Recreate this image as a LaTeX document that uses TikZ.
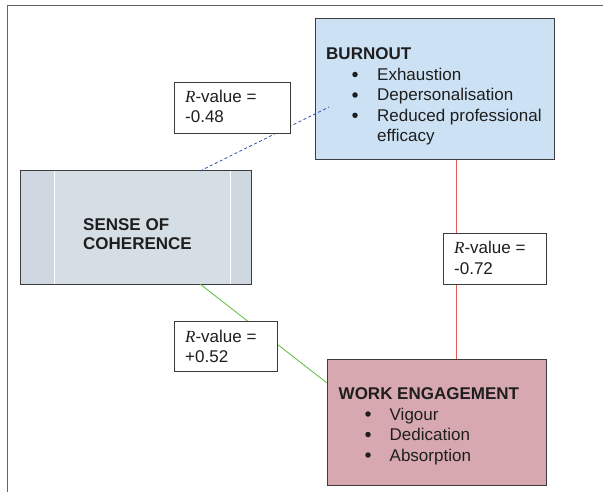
\documentclass[tikz,border=0pt]{standalone}
\usepackage{fontspec}
\setmainfont{Liberation Sans}
\newfontfamily\serifR{Liberation Serif}
\definecolor{burnfill}{RGB}{204,226,244}
\definecolor{socfill}{RGB}{214,222,229}
\definecolor{socside}{RGB}{207,216,224}
\definecolor{wefill}{RGB}{216,168,176}
\definecolor{boxline}{RGB}{60,60,60}
\definecolor{framecol}{RGB}{100,100,100}
\definecolor{dashblue}{RGB}{50,80,170}
\definecolor{redln}{RGB}{225,90,90}
\definecolor{greenln}{RGB}{90,190,60}
\definecolor{txt}{RGB}{30,30,30}
\tikzset{
  bigbox/.style={draw=boxline, line width=1pt, inner sep=0pt},
  valbox/.style={draw=boxline, line width=0.9pt, fill=white, inner sep=0pt},
  tx/.style={anchor=base west, inner sep=0pt, text=txt, font=\fontsize{17}{20.3}\selectfont},
  bx/.style={tx, font=\fontsize{17}{20.3}\selectfont\bfseries},
  bul/.style={circle, fill=txt, inner sep=0pt, minimum size=5.5pt},
  dashconn/.style={draw=dashblue, line width=0.8pt, dash pattern=on 3pt off 2.5pt},
  redconn/.style={draw=redln, line width=0.8pt},
  greenconn/.style={draw=greenln, line width=0.8pt}
}
\begin{document}
\begin{tikzpicture}[x=1pt,y=-1pt]
\useasboundingbox (0,0) rectangle (603,492);
\fill[white] (0,0) rectangle (603,492);
% frame
\coordinate (fA) at (7,492);
\coordinate (fB) at (7,6);
\coordinate (fC) at (603,6);
\draw[framecol, line width=1pt] (fA) -- (fB) -- (fC);

% boxes
\node[bigbox, fill=burnfill, minimum width=239pt, minimum height=141pt] (burn) at (434.5,89.5) {};
\node[bigbox, fill=socfill, minimum width=230pt, minimum height=113pt] (soc) at (136,227.5) {};
\fill[socside] ([xshift=0.5pt,yshift=-0.5pt]soc.north west) rectangle ([xshift=34pt,yshift=0.5pt]soc.south west);
\fill[socside] ([xshift=-21pt,yshift=-0.5pt]soc.north east) rectangle ([xshift=-0.5pt,yshift=0.5pt]soc.south east);
\draw[white, line width=1pt] ([xshift=34pt]soc.north west) -- ([xshift=34pt]soc.south west);
\draw[white, line width=1pt] ([xshift=-21pt]soc.north east) -- ([xshift=-21pt]soc.south east);
\draw[boxline, line width=1pt] (soc.north west) rectangle (soc.south east);
\node[bigbox, fill=wefill, minimum width=219pt, minimum height=126pt] (we) at (436.5,422) {};

% connectors
\coordinate (d1) at (200,171);
\coordinate (d2) at (329,107);
\draw[dashconn] (d1) -- (d2);
\coordinate (r1) at (456,160);
\coordinate (r2) at (456,359);
\draw[redconn] (r1) -- (r2);
\coordinate (g1) at (200,284);
\coordinate (g2) at (327,383);
\draw[greenconn] (g1) -- (g2);

% value boxes
\node[valbox, minimum width=116pt, minimum height=51pt] (v1) at (232,107.5) {};
\node[valbox, minimum width=103pt, minimum height=51pt] (v2) at (494.5,258.5) {};
\node[valbox, minimum width=103pt, minimum height=50pt] (v3) at (225.5,346) {};

% burnout text
\node[bx] (bt) at (326,60) {BURNOUT};
\node[bul] (bb1) at (355,74.5) {};
\node[tx] (bl1) at (377,80.5) {Exhaustion};
\node[bul] (bb2) at (355,95) {};
\node[tx] (bl2) at (377,101) {Depersonalisation};
\node[bul] (bb3) at (355,115.3) {};
\node[tx] (bl3) at (377,121.3) {Reduced professional};
\node[tx] (bl4) at (377,141.5) {efficacy};

% soc text
\node[bx] (st1) at (83,230) {SENSE OF};
\node[bx] (st2) at (83,249) {COHERENCE};

% work engagement text
\node[bx] (wt) at (338.5,399) {WORK ENGAGEMENT};
\node[bul] (wb1) at (368,414) {};
\node[tx] (wl1) at (389.5,420) {Vigour};
\node[bul] (wb2) at (368,434.5) {};
\node[tx] (wl2) at (389.5,440.5) {Dedication};
\node[bul] (wb3) at (368,455) {};
\node[tx] (wl3) at (389.5,461) {Absorption};

% value texts
\node[tx] (v1a) at (185,103) {{\serifR\itshape R}-value =};
\node[tx] (v1b) at (185,123) {-0.48};
\node[tx] (v2a) at (454,254) {{\serifR\itshape R}-value =};
\node[tx] (v2b) at (454,274) {-0.72};
\node[tx] (v3a) at (185,342) {{\serifR\itshape R}-value =};
\node[tx] (v3b) at (185,362) {+0.52};
\end{tikzpicture}
\end{document}
